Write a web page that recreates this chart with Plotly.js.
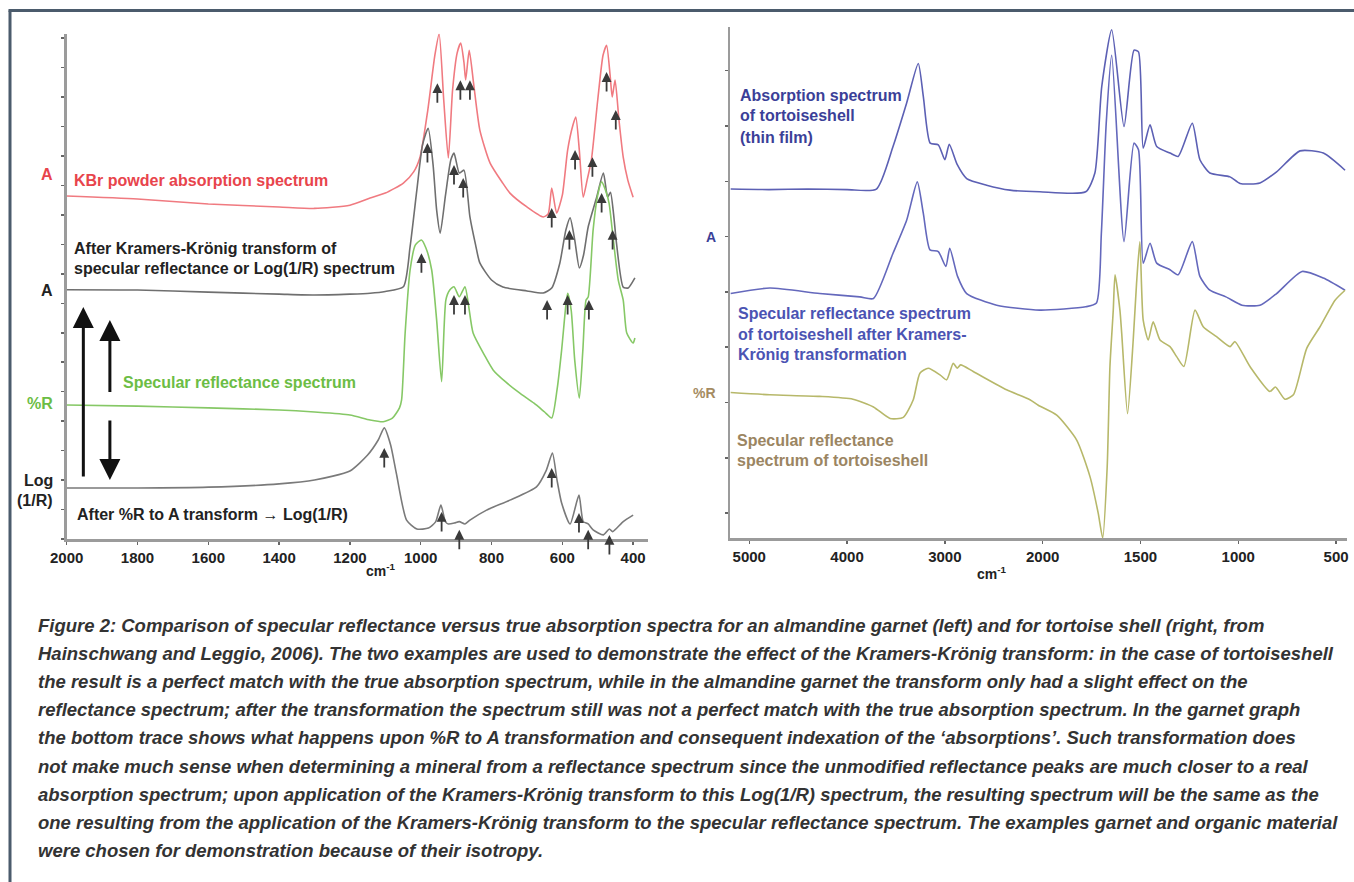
<!DOCTYPE html>
<html>
<head>
<meta charset="utf-8">
<script src="https://cdn.plot.ly/plotly-3.0.1.min.js"></script>
<style>html,body{margin:0;padding:0;background:#fff;}#chart{width:1354px;height:882px;}</style>
</head>
<body>
<div id="chart"></div>
<script>
// ---------- LEFT: almandine garnet (cm-1, arbitrary offset units) ----------
const kbrW  = [2000,1800,1600,1400,1300,1200,1143,1100,1049,1020,1002,980,960,948,935,922,910,897,887,878,873,863,850,833,804,770,748,700,654,640,630,616,600,585,570,562,552,541,530,518,500,485,475,465,459,451,440,428,415,400];
const kbrA  = [11.64,11.54,11.37,11.27,11.22,11.33,11.57,11.74,12.08,12.46,12.96,14.56,16.42,17.14,14.9,12.93,15.24,16.5,16.83,16.19,15.58,16.59,15.4,13.88,12.76,12.11,11.74,11.27,10.93,11.03,11.91,11.06,11.67,13.2,14.05,14.32,13.2,11.6,12.18,12.86,14.9,16.42,16.76,15.74,15.0,15.58,14.22,12.96,12.18,11.6];

const kkW   = [2000,1800,1600,1400,1300,1200,1143,1100,1049,1030,1011,995,979,965,955,945,930,915,906,891,878,861,845,833,800,768,700,654,630,607,590,578,565,552,540,527,503,484,472,464,455,447,428,414,395];
const kkA   = [8.46,8.45,8.38,8.31,8.28,8.31,8.34,8.40,8.56,9.92,11.84,13.37,13.94,12.69,11.16,10.38,11.67,12.86,13.1,12.42,12.52,10.93,9.98,9.37,8.79,8.55,8.42,8.35,8.52,9.37,10.49,10.9,10.15,9.2,9.64,10.59,11.6,12.42,11.6,11.77,11.0,10.04,8.55,8.52,8.86];

const specW = [2000,1800,1600,1400,1300,1200,1143,1106,1080,1060,1054,1044,1030,1015,998,985,969,955,941,929,918,906,891,875,865,852,820,795,760,720,680,650,630,615,602,590,585,575,565,552,542,533,527,513,500,489,478,468,459,442,428,418,400,395];
const specR = [4.55,4.51,4.45,4.38,4.31,4.21,4.04,3.98,4.1,4.45,4.72,6.99,9.13,9.98,10.15,9.87,9.13,7.43,5.34,8.11,8.45,8.56,8.22,8.56,7.94,6.99,6.24,5.73,5.33,4.95,4.61,4.31,4.11,5.06,6.41,7.94,8.34,7.77,6.07,4.78,6.41,8.11,8.21,10.49,11.67,12.12,11.84,11.4,10.49,8.79,8.11,6.99,6.65,6.82];

const logW  = [2000,1800,1600,1400,1300,1200,1150,1120,1103,1085,1069,1040,1011,978,958,943,930,922,905,891,875,861,814,748,673,645,628,615,602,578,553,541,527,513,484,467,458,428,400];
const logR  = [1.73,1.73,1.76,1.87,2.0,2.31,2.85,3.36,3.77,3.19,2.24,0.64,0.34,0.37,0.58,1.15,0.58,0.51,0.54,0.59,0.51,0.64,0.98,1.32,1.77,2.34,2.92,2.0,1.22,0.51,1.49,0.59,0.51,0.31,0.14,0.34,0.25,0.59,0.81];

// peak-marker arrows (wavenumber, tip height)
const kbrPeakW  = [953,888,861,630,564,515,475,449];
const kbrPeakY  = [15.47,15.57,15.57,11.23,13.2,12.96,15.85,14.56];
const kkPeakW   = [981,906,880,580,489,458];
const kkPeakY   = [13.44,12.69,12.25,10.49,11.74,10.49];
const specPeakW = [998,906,875,643,585,525];
const specPeakY = [9.7,8.28,8.28,8.11,8.28,8.11];
const logPeakW  = [1103,941,891,630,553,527,467];
const logPeakY  = [3.09,0.92,0.31,2.41,0.88,0.31,0.14];

// large transform arrows: wavenumber, from, to
const bigArrowW    = [1953,1878,1878];
const bigArrowFrom = [2.07,4.94,4.07];
const bigArrowTo   = [7.87,7.43,2.0];

const leftTicks = [2000,1800,1600,1400,1200,1000,800,600,400];

// ---------- RIGHT: tortoiseshell ----------
const absW  = [5190,4800,4400,4000,3700,3530,3390,3272,3220,3150,3067,3000,2955,2873,2777,2573,2334,2030,1780,1733,1698,1647,1584,1533,1510,1486,1451,1417,1349,1307,1235,1196,1145,1042,991,889,804,684,565,454];
const absA  = [6.31,6.30,6.31,6.30,6.31,7.08,7.87,8.58,7.98,7.14,7.11,6.84,7.12,6.75,6.5,6.38,6.29,6.26,6.26,6.6,8.16,9.19,7.44,8.82,8.79,7.05,7.47,7.08,6.96,6.9,7.5,6.84,6.6,6.53,6.41,6.42,6.62,7.0,6.96,6.65];

const tkkW  = [5190,4790,4280,3870,3730,3530,3390,3282,3221,3152,3067,2990,2950,2870,2777,2470,2030,1780,1725,1700,1675,1647,1584,1533,1510,1486,1451,1417,1349,1307,1235,1196,1145,1063,981,889,804,674,565,454];
const tkkA  = [4.42,4.52,4.42,4.36,4.33,5.15,5.75,6.44,5.88,5.21,5.18,4.91,5.24,4.73,4.42,4.21,4.12,4.18,4.25,5.5,7.5,8.73,5.36,7.14,7.02,4.97,5.33,4.97,4.85,4.76,5.36,4.73,4.48,4.36,4.21,4.21,4.42,4.82,4.7,4.48];

const tspW  = [5190,4790,4280,3940,3730,3560,3425,3323,3255,3170,3050,2982,2914,2874,2839,2710,2369,2130,2045,1928,1826,1758,1716,1693,1670,1656,1639,1630,1605,1596,1566,1537,1520,1503,1486,1460,1435,1400,1349,1315,1278,1221,1179,1111,1042,1017,940,838,810,761,718,650,582,505,454];
const tspR  = [2.63,2.59,2.56,2.51,2.37,2.16,2.18,2.5,2.98,3.07,2.95,2.86,3.16,3.07,3.13,3.01,2.68,2.5,2.4,2.22,1.77,1.11,0.45,0.0,1.29,3.1,4.12,4.76,4.12,3.71,2.25,3.58,4.6,5.36,3.94,3.58,3.91,3.58,3.46,3.28,3.1,4.12,3.82,3.64,3.46,3.55,3.1,2.65,2.73,2.51,2.59,3.43,3.82,4.3,4.48];

const rightTicks = [5000,4000,3000,2000,1500,1000,500];

// caption lines
const captionLines = [
 "Figure 2: Comparison of specular reflectance versus true absorption spectra for an almandine garnet (left) and for tortoise shell (right, from",
 "Hainschwang and Leggio, 2006). The two examples are used to demonstrate the effect of the Kramers-Krönig transform: in the case of tortoiseshell",
 "the result is a perfect match with the true absorption spectrum, while in the almandine garnet the transform only had a slight effect on the",
 "reflectance spectrum; after the transformation the spectrum still was not a perfect match with the true absorption spectrum. In the garnet graph",
 "the bottom trace shows what happens upon %R to A transformation and consequent indexation of the ‘absorptions’. Such transformation does",
 "not make much sense when determining a mineral from a reflectance spectrum since the unmodified reflectance peaks are much closer to a real",
 "absorption spectrum; upon application of the Kramers-Krönig transform to this Log(1/R) spectrum, the resulting spectrum will be the same as the",
 "one resulting from the application of the Kramers-Krönig transform to the specular reflectance spectrum. The examples garnet and organic material",
 "were chosen for demonstration because of their isotropy."
];

// ---------- helpers ----------
const W = 1354, H = 882;
const px = x => x / W;
const py = y => 1 - y / H;
// right axis: 2x expansion below 2000 cm-1
const toU = w => (w >= 2000 ? 2000 + (w - 2000) / 2 : w);

const FONT = "Liberation Sans, Arial, sans-serif";

function line(x, y, color, xa, ya, width) {
  return {x: x, y: y, type: 'scatter', mode: 'lines', xaxis: xa, yaxis: ya,
          line: {color: color, width: width || 1.6, shape: 'spline', smoothing: 0.6},
          hoverinfo: 'skip'};
}

const traces = [
  line(kbrW, kbrA, '#f07a80', 'x', 'y'),
  line(kkW, kkA, '#6f6f6f', 'x', 'y'),
  line(specW, specR, '#86c866', 'x', 'y'),
  line(logW, logR, '#7a7a7a', 'x', 'y'),
  line(absW.map(toU), absA, '#5c60b4', 'x2', 'y2'),
  line(tkkW.map(toU), tkkA, '#6468bc', 'x2', 'y2'),
  line(tspW.map(toU), tspR, '#b7b86a', 'x2', 'y2')
];

const annotations = [];
function peakArrows(ws, ys) {
  ws.forEach((w, i) => annotations.push({
    x: w, y: ys[i], xref: 'x', yref: 'y', text: '', showarrow: true,
    ax: 0, ay: 21, arrowhead: 2, arrowsize: 1.1, arrowwidth: 1.8, arrowcolor: '#3a3a3a'
  }));
}
peakArrows(kbrPeakW, kbrPeakY);
peakArrows(kkPeakW, kkPeakY);
peakArrows(specPeakW, specPeakY);
peakArrows(logPeakW, logPeakY);

bigArrowW.forEach((w, i) => annotations.push({
  x: w, y: bigArrowTo[i], ax: w, ay: bigArrowFrom[i], xref: 'x', yref: 'y', axref: 'x', ayref: 'y',
  text: '', showarrow: true, arrowhead: 2, arrowsize: 1.4, arrowwidth: 3, arrowcolor: '#111'
}));

function label(text, x, y, color, anchor, size) {
  annotations.push({text: text, x: px(x), y: py(y), xref: 'paper', yref: 'paper',
    xanchor: anchor || 'left', yanchor: 'middle', showarrow: false,
    font: {family: FONT, size: size || 16, color: color, weight: 'bold'}});
}
// left labels
label('A', 55, 175, '#e8444c', 'right');
label('KBr powder absorption spectrum', 72, 181, '#e8444c');
label('After Kramers-Krönig transform of', 72, 248, '#222');
label('specular reflectance or Log(1/R) spectrum', 72, 269, '#222');
label('A', 55, 290, '#222', 'right');
label('Specular reflectance spectrum', 121, 382, '#6cbd45');
label('%R', 55, 403, '#6cbd45', 'right');
label('Log', 55, 480, '#222', 'right');
label('(1/R)', 55, 501, '#222', 'right');
label('After %R to A transform → Log(1/R)', 75, 514, '#222');
label('cm<sup>-1</sup>', 381, 570, '#222', 'center', 14);
// right labels
label('Absorption spectrum', 738, 95, '#3b3f98');
label('of tortoiseshell', 738, 116, '#3b3f98');
label('(thin film)', 738, 137, '#3b3f98');
label('A', 718, 237, '#3b3f98', 'right', 14);
label('Specular reflectance spectrum', 736, 313, '#4b53b3');
label('of tortoiseshell after Kramers-', 736, 334, '#4b53b3');
label('Krönig transformation', 736, 354, '#4b53b3');
label('%R', 718, 393, '#a58b62', 'right', 14);
label('Specular reflectance', 735, 440, '#9b8562');
label('spectrum of tortoiseshell', 735, 460, '#9b8562');
label('cm<sup>-1</sup>', 992, 573, '#222', 'center', 14);

// caption
captionLines.forEach((t, i) => annotations.push({
  text: t, x: px(36), y: py(625 + i * 28.2), xref: 'paper', yref: 'paper',
  xanchor: 'left', yanchor: 'middle', showarrow: false,
  font: {family: FONT, size: 18.5, color: '#333', style: 'italic', weight: 'bold'}
}));

const axisCommon = {showgrid: false, zeroline: false, showline: true, linecolor: '#9b9b9b',
  linewidth: 2.5, ticks: 'outside', ticklen: 3, tickwidth: 1.5, tickcolor: '#666', fixedrange: true};
const tickFont = {family: FONT, size: 15, color: '#222', weight: 'bold'};

const layout = {
  width: W, height: H, margin: {l: 0, r: 0, t: 0, b: 0},
  paper_bgcolor: '#ffffff', plot_bgcolor: 'rgba(0,0,0,0)', showlegend: false,
  xaxis: Object.assign({}, axisCommon, {domain: [px(66.7), px(648)], range: [2000, 358], anchor: 'y',
    tickvals: leftTicks, ticktext: leftTicks.map(String), tickfont: tickFont}),
  yaxis: Object.assign({}, axisCommon, {domain: [py(539), py(33.7)], range: [0, 17.15], anchor: 'x',
    tick0: 0, dtick: 1, showticklabels: false}),
  xaxis2: Object.assign({}, axisCommon, {domain: [px(730), px(1347)], range: [toU(5197), toU(444)], anchor: 'y2',
    tickvals: rightTicks.map(toU), ticktext: rightTicks.map(String), tickfont: tickFont}),
  yaxis2: Object.assign({}, axisCommon, {domain: [py(538), py(27)], range: [0, 9.24], anchor: 'x2',
    tick0: 0.45, dtick: 1, showticklabels: false}),
  annotations: annotations,
  shapes: [
    {type: 'line', xref: 'paper', yref: 'paper', x0: px(10), x1: px(10), y0: 0, y1: py(10.5), line: {color: '#4b5b6c', width: 3}},
    {type: 'line', xref: 'paper', yref: 'paper', x0: px(8.5), x1: 1, y0: py(10.5), y1: py(10.5), line: {color: '#4b5b6c', width: 3}}
  ]
};

Plotly.newPlot('chart', traces, layout, {staticPlot: true, displayModeBar: false});
</script>
</body>
</html>
